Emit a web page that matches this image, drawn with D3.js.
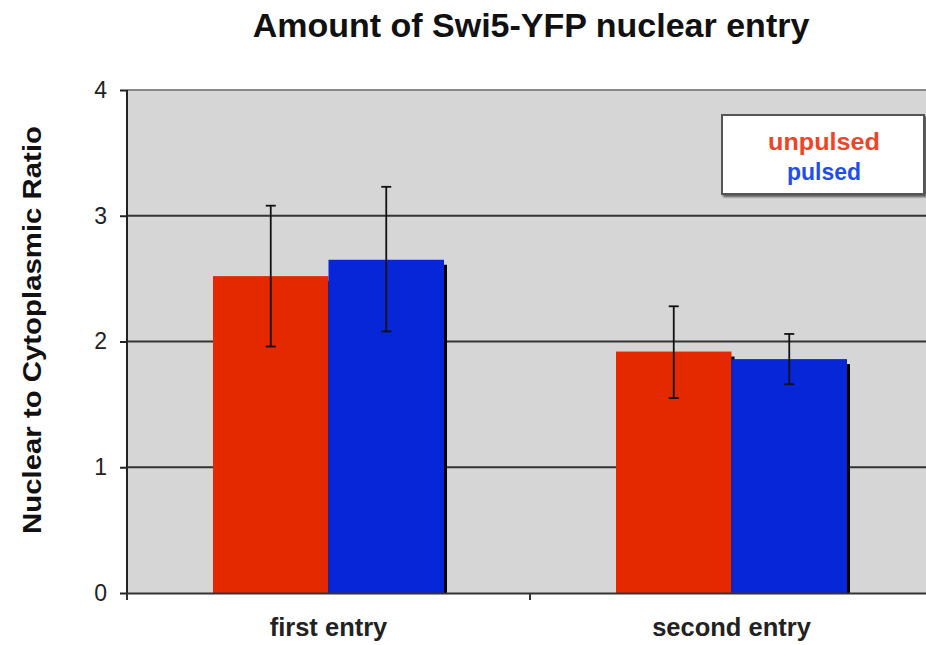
<!DOCTYPE html>
<html>
<head>
<meta charset="utf-8">
<script src="https://cdn.jsdelivr.net/npm/d3@7"></script>
<style>
body { margin: 0; background: #fff; }
text { font-family: "Liberation Sans", Arial, sans-serif; }
</style>
</head>
<body>
<div id="chart"></div>
<script>
// data
var categories = ["first entry", "second entry"];
var seriesNames = ["unpulsed", "pulsed"];
var unpulsed = [2.52, 1.92];
var pulsed = [2.65, 1.86];
var unpulsedLow = [1.96, 1.55];
var unpulsedHigh = [3.08, 2.28];
var pulsedLow = [2.08, 1.66];
var pulsedHigh = [3.23, 2.06];
var yTicks = [0, 1, 2, 3, 4];

var W = 926, H = 645;
var margin = {top: 90, right: -7, bottom: 52, left: 127},
    width = W - margin.left - margin.right,
    height = H - margin.top - margin.bottom;

var svg = d3.select("#chart").append("svg")
    .attr("width", W)
    .attr("height", H);

var defs = svg.append("defs");
defs.append("filter").attr("id", "shadow")
    .attr("x", "-10%").attr("y", "-10%").attr("width", "130%").attr("height", "130%")
  .append("feDropShadow")
    .attr("dx", 2).attr("dy", 2).attr("stdDeviation", 1)
    .attr("flood-color", "#000").attr("flood-opacity", 0.6);

var g = svg.append("g")
    .attr("transform", "translate(" + margin.left + "," + margin.top + ")");

var x0 = d3.scaleBand().domain(categories).range([0, width]).paddingInner(0).paddingOuter(0);
var x1 = d3.scaleBand().domain(seriesNames).range([0, 231]);
var y = d3.scaleLinear().domain([0, 4]).range([height, 0]);

// plot background
g.append("rect")
    .attr("width", width)
    .attr("height", height)
    .attr("fill", "#d6d6d6");

// gridlines
g.append("g")
    .selectAll("line")
    .data(yTicks.slice(1))
    .enter().append("line")
    .attr("x1", 0).attr("x2", width)
    .attr("y1", function(d) { return y(d); })
    .attr("y2", function(d) { return y(d); })
    .attr("stroke", function(d) { return d === 4 ? "#888" : "#333"; })
    .attr("stroke-width", 2);

var colors = {unpulsed: "#e42800", pulsed: "#0626d8"};
var vals = {unpulsed: unpulsed, pulsed: pulsed};
var lows = {unpulsed: unpulsedLow, pulsed: pulsedLow};
var highs = {unpulsed: unpulsedHigh, pulsed: pulsedHigh};

var rows = [];
categories.forEach(function(c, i) {
  seriesNames.forEach(function(s) {
    rows.push({cat: c, s: s, v: vals[s][i], lo: lows[s][i], hi: highs[s][i]});
  });
});

function barX(d) { return x0(d.cat) + (x0.bandwidth() - 231) / 2 + x1(d.s); }

// bar shadows
g.append("g").selectAll("rect")
    .data(rows)
    .enter().append("rect")
    .attr("x", function(d) { return barX(d) + 3; })
    .attr("y", function(d) { return y(d.v) + 5; })
    .attr("width", x1.bandwidth())
    .attr("height", function(d) { return height - y(d.v) - 5; })
    .attr("fill", "#000");

// bars
g.append("g").selectAll("rect")
    .data(rows)
    .enter().append("rect")
    .attr("x", barX)
    .attr("y", function(d) { return y(d.v); })
    .attr("width", x1.bandwidth())
    .attr("height", function(d) { return height - y(d.v); })
    .attr("fill", function(d) { return colors[d.s]; });

// error bars
var eb = g.append("g").selectAll("g")
    .data(rows)
    .enter().append("g")
    .attr("stroke", "#111")
    .attr("stroke-width", 1.8);
eb.append("line")
    .attr("x1", function(d) { return barX(d) + x1.bandwidth() / 2; })
    .attr("x2", function(d) { return barX(d) + x1.bandwidth() / 2; })
    .attr("y1", function(d) { return y(d.lo); })
    .attr("y2", function(d) { return y(d.hi); });
eb.selectAll(".cap")
    .data(function(d) { return [{d: d, v: d.lo}, {d: d, v: d.hi}]; })
    .enter().append("line")
    .attr("x1", function(e) { return barX(e.d) + x1.bandwidth() / 2 - 5; })
    .attr("x2", function(e) { return barX(e.d) + x1.bandwidth() / 2 + 5; })
    .attr("y1", function(e) { return y(e.v); })
    .attr("y2", function(e) { return y(e.v); });

// y axis
var yAxis = g.append("g")
    .call(d3.axisLeft(y).tickValues(yTicks).tickSize(7).tickPadding(13).tickFormat(d3.format("d")));
yAxis.select(".domain").attr("stroke", "#222").attr("stroke-width", 2).attr("d", "M0," + (height + 6) + "V0");
yAxis.selectAll(".tick line").attr("stroke", "#222").attr("stroke-width", 2);
yAxis.selectAll(".tick text")
    .attr("font-size", 23)
    .attr("fill", "#222")
    .style("font-family", "Liberation Sans, Arial, sans-serif");

// x axis
var xAxis = g.append("g")
    .attr("transform", "translate(0," + height + ")")
    .call(d3.axisBottom(x0).tickSize(0).tickPadding(25));
xAxis.select(".domain").attr("stroke", "#333").attr("stroke-width", 2);
xAxis.selectAll(".tick text")
    .attr("font-size", 25.5)
    .attr("font-weight", "bold")
    .attr("fill", "#222")
    .style("font-family", "Liberation Sans, Arial, sans-serif");
// category separator ticks
g.append("g").selectAll("line")
    .data(categories)
    .enter().append("line")
    .attr("x1", function(d) { return x0(d); })
    .attr("x2", function(d) { return x0(d); })
    .attr("y1", height)
    .attr("y2", height + 7)
    .attr("stroke", "#333")
    .attr("stroke-width", 2);

// legend
var legendLen = [112, 74];
var lg = svg.append("g").attr("transform", "translate(722,115)");
lg.append("rect")
    .attr("width", 202)
    .attr("height", 79)
    .attr("fill", "#fff")
    .attr("stroke", "#555")
    .attr("stroke-width", 2)
    .attr("filter", "url(#shadow)");
lg.selectAll("text")
    .data(seriesNames)
    .enter().append("text")
    .attr("x", 102)
    .attr("y", function(d, i) { return 35 + i * 30; })
    .attr("text-anchor", "middle")
    .attr("font-size", 24)
    .attr("font-weight", "bold")
    .attr("textLength", function(d, i) { return legendLen[i]; })
    .attr("lengthAdjust", "spacingAndGlyphs")
    .attr("fill", function(d) { return d === "unpulsed" ? "#ee4428" : "#1f4df0"; })
    .text(function(d) { return d; });

// title
svg.append("text")
    .attr("x", 531)
    .attr("y", 37)
    .attr("text-anchor", "middle")
    .attr("font-size", 34)
    .attr("font-weight", "bold")
    .attr("fill", "#111")
    .text("Amount of Swi5-YFP nuclear entry");

// y label
svg.append("text")
    .attr("transform", "translate(41,330) rotate(-90)")
    .attr("text-anchor", "middle")
    .attr("font-size", 25)
    .attr("font-weight", "bold")
    .attr("textLength", 408)
    .attr("lengthAdjust", "spacingAndGlyphs")
    .attr("fill", "#111")
    .text("Nuclear to Cytoplasmic Ratio");
</script>
</body>
</html>
